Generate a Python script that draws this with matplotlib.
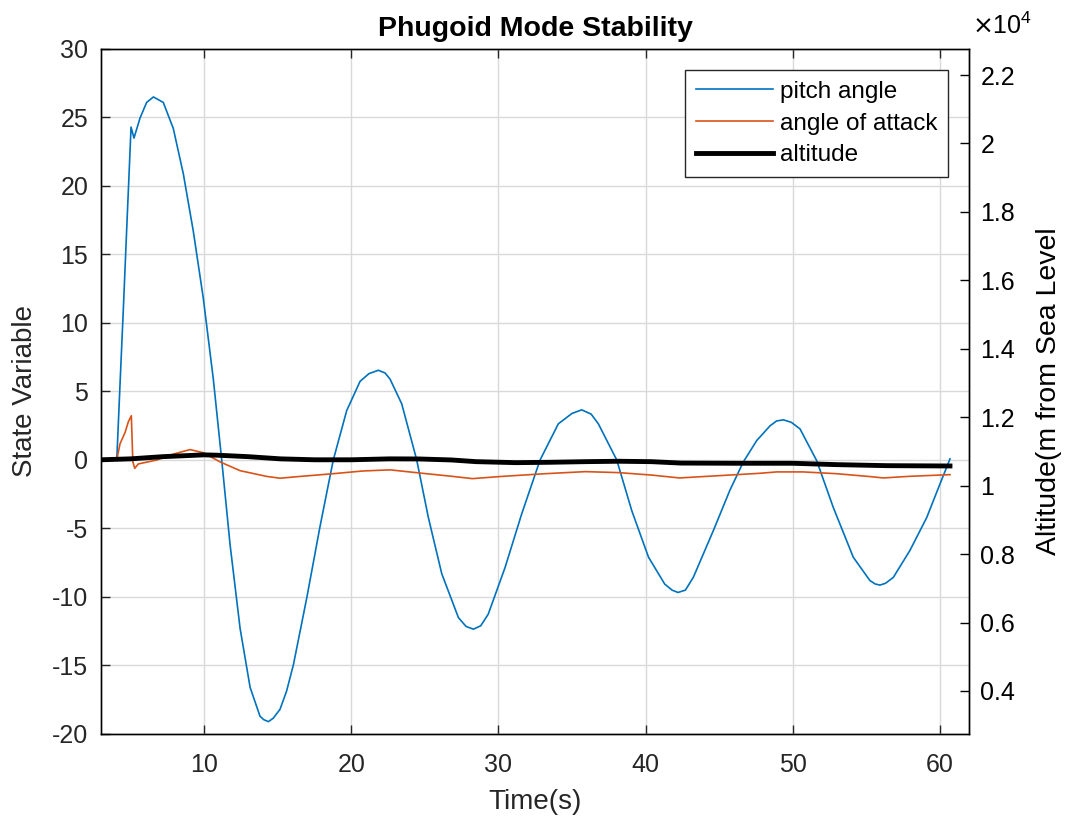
import numpy as np
import matplotlib.pyplot as plt
from matplotlib.ticker import FuncFormatter

# pitch angle (deg)
t_pitch = [4.07, 4.29, 4.52, 4.75, 4.93, 5.04, 5.24, 5.65, 6.10, 6.56, 7.23, 7.91,
           8.59, 9.27, 9.95, 10.63, 11.20, 11.77, 12.45, 13.13, 13.80, 14.05, 14.37,
           14.70, 15.16, 15.60, 16.07, 16.98, 17.88, 18.78, 19.69, 20.60, 21.20,
           21.84, 22.30, 22.64, 23.43, 24.45, 25.24, 26.15, 27.28, 27.80, 28.30,
           28.80, 29.31, 30.45, 31.58, 32.83, 34.07, 35.00, 35.66, 36.30, 36.79,
           38.04, 39.06, 40.20, 41.30, 41.80, 42.20, 42.70, 43.24, 44.60, 45.73,
           46.64, 47.55, 48.46, 48.90, 49.36, 49.90, 50.49, 51.62, 52.75, 54.11,
           55.24, 55.60, 55.92, 56.30, 56.83, 57.96, 59.10, 60.00, 60.68]
pitch = [0.0, 5.5, 11.1, 17.0, 21.5, 24.3, 23.5, 24.96, 26.1, 26.5, 26.1, 24.2,
         20.9, 16.7, 11.8, 5.9, 0.0, -6.2, -12.3, -16.6, -18.7, -18.95, -19.1,
         -18.85, -18.2, -16.9, -14.95, -10.06, -4.85, 0.0, 3.6, 5.74, 6.3,
         6.55, 6.35, 5.9, 4.1, 0.0, -4.2, -8.3, -11.5, -12.15, -12.35,
         -12.1, -11.25, -7.85, -3.94, 0.0, 2.64, 3.4, 3.66, 3.35, 2.64,
         0.0, -3.7, -7.1, -9.06, -9.5, -9.67, -9.5, -8.57, -5.16, -2.2,
         -0.14, 1.42, 2.5, 2.85, 2.93, 2.75, 2.27, -0.04, -3.46, -7.1,
         -8.8, -9.05, -9.13, -9.0, -8.57, -6.6, -4.2, -1.75, 0.08]

# angle of attack (deg)
t_aoa = [4.07, 4.29, 4.63, 4.86, 5.06, 5.16, 5.29, 5.53, 6.78, 7.91, 9.05, 9.95,
         11.09, 12.45, 14.26, 15.16, 16.52, 18.78, 20.82, 22.64, 24.56, 26.83,
         28.23, 30.22, 33.17, 35.90, 38.15, 40.40, 42.30, 45.05, 47.77, 48.90,
         50.70, 52.98, 55.24, 56.15, 57.96, 60.68]
aoa = [0.0, 1.18, 2.0, 2.8, 3.23, -0.12, -0.61, -0.29, 0.0, 0.43, 0.76, 0.53,
       -0.14, -0.78, -1.2, -1.33, -1.2, -1.0, -0.8, -0.72, -0.94, -1.19,
       -1.36, -1.2, -1.0, -0.85, -0.92, -1.1, -1.31, -1.14, -0.97, -0.87,
       -0.87, -1.0, -1.21, -1.31, -1.19, -1.07]

# altitude (m)
t_alt = [3.0, 5.0, 7.2, 10.0, 11.0, 13.0, 15.2, 17.5, 20.0, 22.6, 24.6, 26.8,
         28.5, 31.2, 33.5, 35.9, 38.2, 40.4, 42.4, 46.2, 50.0, 53.0, 56.4, 60.68]
alt = [10756, 10783, 10847, 10900, 10888, 10847, 10783, 10756, 10756, 10783,
       10780, 10751, 10701, 10672, 10683, 10701, 10713, 10701, 10660, 10654,
       10654, 10614, 10584, 10575]

left_ticks = np.arange(-20, 31, 5)
right_ticks = np.arange(4000, 22001, 2000)
x_ticks = [10, 20, 30, 40, 50, 60]

plt.rcParams["font.family"] = ["Liberation Sans", "DejaVu Sans"]
plt.rcParams["axes.unicode_minus"] = False

fig = plt.figure(figsize=(10.67, 8.18), dpi=100)
ax1 = fig.add_axes([0.0944, 0.1027, 0.8140, 0.8374])
ax2 = ax1.twinx()

dark = "#262626"
l1, = ax1.plot(t_pitch, pitch, color="#0072BD", lw=1.2, label="pitch angle")
l2, = ax1.plot(t_aoa, aoa, color="#D95319", lw=1.2, label="angle of attack")
l3, = ax2.plot(t_alt, alt, color="black", lw=3.5, label="altitude")

ax1.set_xlim(2.98, 61.99)
ax1.set_ylim(-20, 30)
ax2.set_ylim(2743, 22760)
ax1.set_xticks(x_ticks)
ax1.set_yticks(left_ticks)
ax2.set_yticks(right_ticks)
ax2.yaxis.set_major_formatter(FuncFormatter(lambda v, p: f"{v/1e4:g}"))

ax1.grid(True, color="#d9d9d9", lw=1.0)
ax1.set_axisbelow(True)

ax1.tick_params(axis="x", direction="in", length=6.5, width=1, labelsize=18,
                colors=dark, top=True, pad=14)
ax1.tick_params(axis="y", direction="in", length=6.5, width=1, labelsize=18,
                colors=dark, right=False, pad=9)
ax2.tick_params(axis="y", direction="in", length=6.5, width=1, labelsize=18,
                colors="black", pad=8)
for s in ["top", "bottom", "left"]:
    ax1.spines[s].set_color(dark)
ax2.spines["right"].set_color("black")
for s in ax2.spines.values():
    s.set_linewidth(1.0)
for s in ax1.spines.values():
    s.set_linewidth(1.0)

ax1.set_xlabel("Time(s)", fontsize=20, color=dark, labelpad=8)
ax1.set_ylabel("State Variable", fontsize=20, color=dark, labelpad=10)
ax2.set_ylabel("Altitude(m from Sea Level", fontsize=20.5, color="black", labelpad=15)
ax1.set_title("Phugoid Mode Stability", fontsize=20.5, fontweight="bold", pad=9)

ax2.text(1.003, 1.014, r"$\times\mathregular{10^4}$", transform=ax2.transAxes,
         fontsize=18, ha="left", va="bottom")

leg = ax2.legend(handles=[l1, l2, l3], loc="upper right",
                 bbox_to_anchor=(0.9755, 0.9693), borderaxespad=0,
                 fontsize=17.5, handlelength=3.2, handletextpad=0.25,
                 fancybox=False, framealpha=1, edgecolor=dark,
                 borderpad=0.45, labelspacing=0.4)
leg.get_frame().set_linewidth(1.0)

fig.savefig("out.png", dpi=100)
